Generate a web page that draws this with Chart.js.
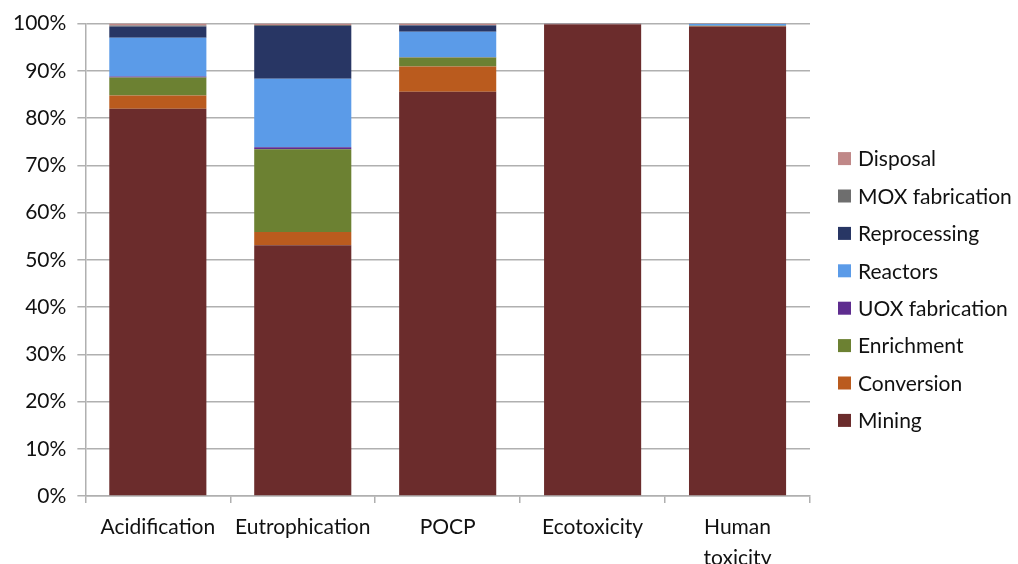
<!DOCTYPE html>
<html><head><meta charset="utf-8">
<script src="https://cdn.jsdelivr.net/npm/chart.js@4/dist/chart.umd.min.js"></script>
<style>html,body{margin:0;padding:0;background:#fff}#w{width:1018px;height:564px}</style>
</head><body><div id="w"><canvas id="c"></canvas></div>
<script>
const categories = ["Acidification", "Eutrophication", "POCP", "Ecotoxicity", ["Human", "toxicity"]];
const yTicks = [0, 10, 20, 30, 40, 50, 60, 70, 80, 90, 100];
const mining       = [82.0, 53.1, 85.6, 99.8, 99.4];
const conversion   = [2.8, 2.8, 5.3, 0.05, 0.1];
const enrichment   = [3.8, 17.5, 1.9, 0.03, 0.05];
const uoxFab       = [0.2, 0.4, 0.1, 0.01, 0.02];
const reactors     = [8.2, 14.5, 5.4, 0.05, 0.35];
const reprocessing = [2.4, 11.2, 1.3, 0.03, 0.03];
const moxFab       = [0.2, 0.2, 0.1, 0.01, 0.02];
const disposal     = [0.4, 0.3, 0.3, 0.02, 0.03];

const seriesNames = ["Mining", "Conversion", "Enrichment", "UOX fabrication", "Reactors", "Reprocessing", "MOX fabrication", "Disposal"];
const seriesData = [mining, conversion, enrichment, uoxFab, reactors, reprocessing, moxFab, disposal];
const seriesColors = ["#6B2C2C", "#BA5B1E", "#6C8132", "#5E2C8F", "#5B9BE8", "#283664", "#6E6E6E", "#C08888"];

const FONT = "Lato, 'Open Sans', sans-serif";

const sideLegend = {
  id: 'sideLegend',
  afterDraw(chart) {
    const ctx = chart.ctx;
    const ds = chart.data.datasets;
    const n = ds.length, step = 37.4;
    const x0 = chart.chartArea.right + 28;
    const y0 = 289.5 - step * (n - 1) / 2;
    ctx.save();
    ctx.font = "21px " + FONT;
    ctx.textBaseline = 'middle';
    ctx.textAlign = 'left';
    for (let k = 0; k < n; k++) {
      const d = ds[n - 1 - k];
      const y = y0 + k * step;
      ctx.fillStyle = d.backgroundColor;
      ctx.fillRect(x0, y - 6.5, 13, 13);
      ctx.fillStyle = '#111';
      ctx.fillText(d.label, x0 + 20, y + 1);
    }
    ctx.restore();
  }
};

new Chart(document.getElementById('c'), {
  type: 'bar',
  data: {
    labels: categories,
    datasets: seriesNames.map((n, i) => ({
      label: n, data: seriesData[i], backgroundColor: seriesColors[i],
      borderWidth: 0, barPercentage: 0.67, categoryPercentage: 1.0
    }))
  },
  plugins: [sideLegend],
  options: {
    responsive: true, maintainAspectRatio: false, animation: false,
    layout: { padding: { top: 8, right: 208, bottom: -18, left: 2 } },
    plugins: {
      tooltip: { enabled: false },
      legend: { display: false }
    },
    scales: {
      x: {
        stacked: true,
        grid: { offset: true, drawOnChartArea: false, color: '#b0b0b0', lineWidth: 1.5, tickLength: 7 },
        border: { color: '#b0b0b0', width: 1.5 },
        ticks: { color: '#111', font: { family: FONT, size: 21, lineHeight: 1.5 }, padding: 8, maxRotation: 0 }
      },
      y: {
        stacked: true, min: 0, max: 100,
        afterBuildTicks: a => { a.ticks = yTicks.map(v => ({ value: v })); },
        grid: { color: '#b0b0b0', lineWidth: 1.5, tickLength: 8 },
        border: { color: '#b0b0b0', width: 1.5 },
        ticks: { color: '#111', font: { family: FONT, size: 21 }, padding: 11, callback: v => v + '%' }
      }
    }
  }
});
</script></body></html>
